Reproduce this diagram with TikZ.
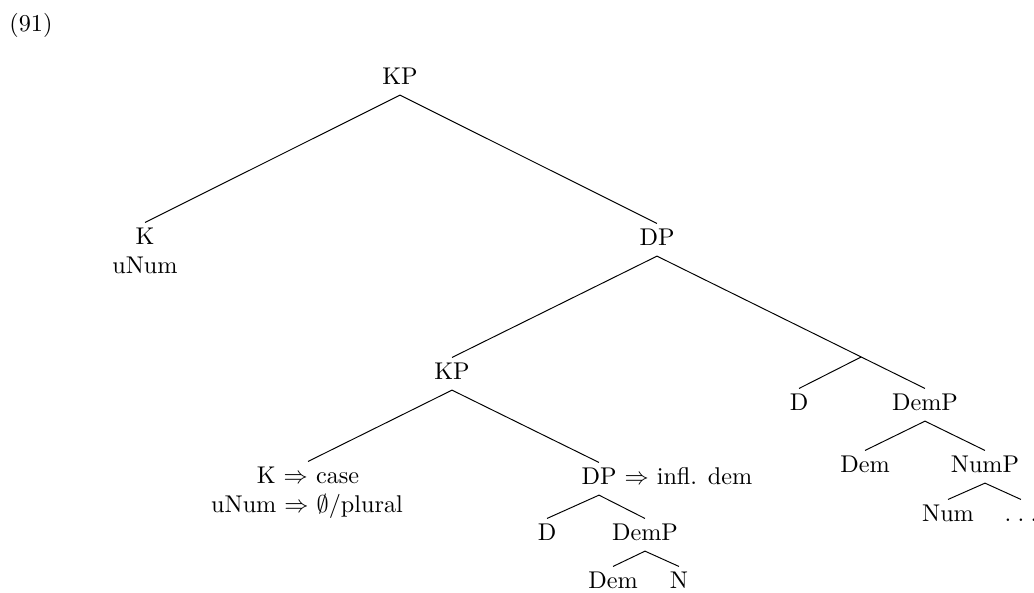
\documentclass[tikz,border=0pt]{standalone}
\usetikzlibrary{calc}
\begin{document}
\begin{tikzpicture}[x=0.4132pt,y=-0.4132pt,
  lbl/.style={anchor=base, inner xsep=0pt, inner ysep=1.9pt, text height=6.8pt, text depth=2.5pt},
  plain/.style={anchor=base, inner sep=0pt},
  br/.style={line width=0.4pt}]
\useasboundingbox (0,0) rectangle (1034,592);
% example number
\node[plain, anchor=base west] (ex) at (9,31) {(91)};
% nodes
\node[lbl] (kp) at (400,84) {KP};
\node[lbl] (k) at (145,244) {K};
\node[plain] (knum) at (145,273) {uNum};
\node[lbl] (dp) at (657,245) {DP};
\node[lbl] (kp2) at (452,379) {KP};
\node[lbl] (kcase) at (308,483) {K $\Rightarrow$ case};
\node[plain] (knum2) at (307,512) {uNum $\Rightarrow$ $\emptyset$/plural};
\node[lbl] (dp2) at (599,484) {DP\rlap{~$\Rightarrow$ infl. dem}};
\node[lbl] (d2) at (547,540) {D};
\node[lbl] (demp2) at (645,540) {DemP};
\node[lbl] (dem2) at (613,588) {Dem};
\node[lbl] (n2) at (679,588) {N};
\node[lbl] (d1) at (799,410) {D};
\node[lbl] (demp1) at (925,410) {DemP};
\node[lbl] (dem1) at (865,472) {Dem};
\node[lbl] (nump) at (985,472) {NumP};
\node[lbl] (num) at (948,521) {Num};
\node[lbl] (dots) at (1021,521) {.\kern2.6pt.\kern2.6pt.};
% branches
\draw[br] (kp.south) -- (k.north);
\draw[br] (kp.south) -- (dp.north);
\draw[br] (dp.south) -- (kp2.north);
\draw[br] (dp.south) -- (demp1.north);
\coordinate (j) at ($(dp.south)!0.762!(demp1.north)$);
\draw[br] (j) -- (d1.north);
\draw[br] (kp2.south) -- (kcase.north);
\draw[br] (kp2.south) -- (dp2.north);
\draw[br] (dp2.south) -- (d2.north);
\draw[br] (dp2.south) -- (demp2.north);
\draw[br] (demp2.south) -- (dem2.north);
\draw[br] (demp2.south) -- (n2.north);
\draw[br] (demp1.south) -- (dem1.north);
\draw[br] (demp1.south) -- (nump.north);
\draw[br] (nump.south) -- (num.north);
\draw[br] (nump.south) -- (dots.north);
\end{tikzpicture}
\end{document}
